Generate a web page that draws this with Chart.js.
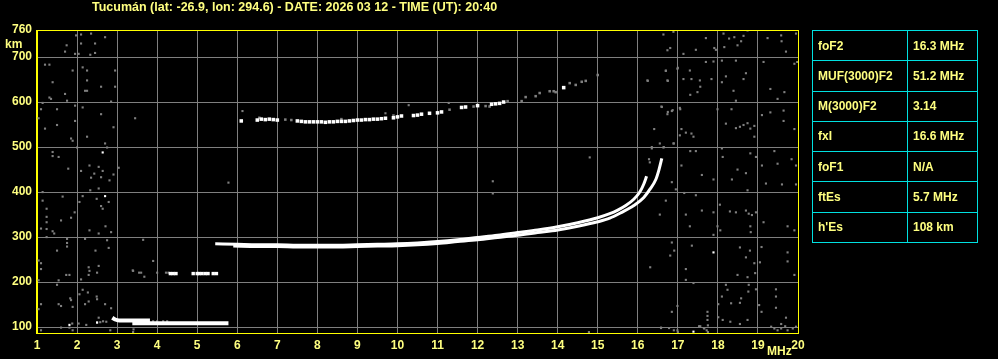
<!DOCTYPE html>
<html>
<head>
<meta charset="utf-8">
<script src="https://cdn.jsdelivr.net/npm/chart.js@4"></script>
<style>
  html, body { margin: 0; padding: 0; background: #000; }
  #wrap { position: relative; width: 998px; height: 359px; background: #000; overflow: hidden; }
  #ionogram { position: absolute; left: 0; top: 0; }
  .lbl { position: absolute; color: #ffff80; font: bold 12px "Liberation Sans", Arial, sans-serif; line-height: 12px; white-space: nowrap; }
  #title { left: 92px; top: 1px; font-size: 12.5px; line-height: 12.5px; }
  #km { left: 5px; top: 38px; }
  #mhz { left: 767px; top: 345px; }
  #params { position: absolute; left: 812px; top: 30px; width: 166px; height: 213px; border-collapse: collapse; }
  #params td { border: 1px solid #00e0e0; color: #ffff80; font: bold 12px "Liberation Sans", Arial, sans-serif; padding: 0 0 0 5px; height: 29px; vertical-align: middle; }
  #params td:first-child { width: 89px; }
</style>
</head>
<body>
<div id="wrap">
  <canvas id="ionogram" width="998" height="359"></canvas>
  <div class="lbl" id="title">Tucumán (lat: -26.9, lon: 294.6) - DATE: 2026 03 12 - TIME (UT): 20:40</div>
  <div class="lbl" id="km">km</div>
  <div class="lbl" id="mhz">MHz</div>
  <table id="params"></table>
</div>
<script>
// scaled parameters shown in the side table
const paramNames = ['foF2', 'MUF(3000)F2', 'M(3000)F2', 'fxI', 'foF1', 'ftEs', "h'Es"];
const paramValues = ['16.3 MHz', '51.2 MHz', '3.14', '16.6 MHz', 'N/A', '5.7 MHz', '108 km'];

const heightTicks = [100, 200, 300, 400, 500, 600, 700, 760];

// F layer, ordinary trace (MHz / km)
const fO = [5.45, 6, 6.5, 7, 7.5, 8, 8.5, 9, 9.5, 10, 10.5, 11, 11.5, 12, 12.5, 13, 13.5, 14, 14.5, 15, 15.3, 15.5, 15.7, 15.9, 16.05, 16.15, 16.22];
const hO = [285, 284, 283, 283, 282, 282, 282, 283, 284, 285, 287, 290, 294, 299, 304, 310, 316, 323, 332, 343, 352, 360, 370, 384, 400, 418, 435];

// F layer, extraordinary trace
const fX = [5.9, 6.5, 7, 7.5, 8, 8.5, 9, 9.5, 10, 10.5, 11, 11.5, 12, 12.5, 13, 13.5, 14, 14.5, 15, 15.3, 15.6, 15.9, 16.15, 16.3, 16.45, 16.53, 16.6];
const hX = [280, 279, 279, 278, 278, 278, 279, 280, 281, 283, 286, 290, 294, 299, 304, 310, 316, 324, 334, 342, 355, 370, 388, 406, 428, 450, 475];

// sporadic E
const fEsTop = [2.88, 2.95, 3.05, 3.82];
const hEsTop = [121, 117, 115, 115];
const fEs = [3.38, 5.78];
const hEs = [108.5, 108.5];

// second hop Es
const fEsHop = [4.33, 4.4, 4.47, 4.9, 5.0, 5.05, 5.12, 5.2, 5.27, 5.4, 5.48];
const hEsHop = [219, 219, 219, 219, 219, 219, 219, 219, 219, 219, 219];

// second hop F (bright and faint echoes)
const fHop = [6.1, 6.5, 6.6, 6.7, 6.8, 6.9, 7.0, 7.5, 7.6, 7.7, 7.8, 7.9, 8.0, 8.1, 8.2, 8.3, 8.4, 8.5, 8.6, 8.7, 8.8, 8.9, 9.0, 9.1, 9.2, 9.3, 9.4, 9.5, 9.6, 9.7, 9.9, 10.0, 10.1, 10.4, 10.5, 10.6, 10.8, 11.0, 11.1, 11.6, 11.7, 12.0, 12.35, 12.45, 12.55, 12.65, 14.15];
const hHop = [558, 560, 562, 561, 562, 561, 560, 558, 557, 556, 556, 556, 556, 556, 555, 556, 556, 557, 557, 557, 558, 559, 560, 560, 561, 561, 562, 562, 563, 564, 565, 567, 569, 570, 571, 573, 575, 576, 578, 588, 589, 592, 595, 596, 597, 600, 632];
const fHopFaint = [6.55, 7.2, 7.35, 8.6, 9.9, 11.3, 11.9, 12.2, 12.3, 12.75, 13.1, 13.2, 13.45, 13.55, 13.8, 13.9, 13.95, 14.3, 14.45, 14.6, 14.7, 15.0];
const hHopFaint = [565, 561, 560, 562, 570, 583, 590, 591, 590, 602, 602, 611, 613, 620, 624, 624, 622, 642, 638, 645, 647, 660];

// interference / noise echoes [MHz, km]
const noiseLow = [[1.975,748],[2.1,750],[2.35,752],[2.7,744],[1.74,726],[2.1,730],[2.45,730],[1.7,712],[1.95,707],[2.04,707],[2.33,705],[2.45,709],[1.2,683],[1.31,683],[1.89,670],[2.14,677],[2.25,670],[2.95,670],[1.39,644],[2.25,648],[2.6,634],[2.95,634],[2.2,625],[2.25,625],[1.7,618],[1.31,610],[1.35,607],[1.75,603],[2.85,601],[1.14,598],[1.1,584],[1.95,592],[2.14,588],[1.5,584],[2.6,573],[1.04,564],[1.95,558],[3.45,564],[1.2,541],[1.5,549],[2.91,544],[2.25,523],[1.85,519],[1.89,514],[2.7,508],[2.75,499],[1.39,489],[1.39,480],[1.54,478],[2.0,499],[2.31,459],[1.78,452],[2.1,447],[2.54,456],[2.43,441],[2.64,447],[2.91,439],[3.04,454],[2.35,432],[2.6,433],[2.81,426],[2.33,404],[2.54,408],[1.14,400],[1.64,390],[2.14,391],[1.14,381],[2.06,378],[2.49,385],[2.79,378],[2.6,369],[2.64,363],[1.24,363],[1.94,355],[1.24,345],[1.85,343],[1.6,337],[1.24,333],[1.24,318],[1.1,319],[1.39,313],[1.43,308],[2.31,315],[2.71,324],[2.54,308],[2.85,311],[1.24,300],[2.2,296],[1.75,296],[1.75,287],[2.75,293],[2.79,276],[1.75,279],[1.5,270],[2.46,270],[1.04,248],[1.1,242],[1.1,229],[2.54,236],[2.29,233],[2.31,225],[2.29,216],[2.5,221],[1.73,216],[1.81,216],[2.1,206],[1.04,204],[1.54,204],[1.5,194],[3.39,226],[2.06,173],[2.14,183],[2.27,177],[2.49,168],[2.5,162],[2.29,157],[1.83,164],[1.85,160],[1.54,151],[1.6,147],[1.1,151],[1.89,145],[2.2,151],[2.7,151],[2.85,142],[1.04,140],[2.54,121],[2.73,112],[1.88,108],[2.04,108],[2.23,105],[1.6,99],[1.81,99],[1.89,93],[1.1,93],[3.41,95],[2.5,111],[2.58,111],[2.65,113],[2.83,93],[3.4,89]];
const noiseMid = [[3.9,113],[4.0,113],[4.15,113],[4.25,113],[3.55,221],[3.6,221],[3.68,212],[3.4,225],[4.0,221],[4.22,221],[4.28,221],[3.9,247],[3.65,294],[5.78,421],[6.13,580],[10.28,593],[9.7,575],[11.28,598],[14.8,477],[12.38,424],[12.38,397],[14.78,89]];
const noiseHigh = [[16.64,750],[16.89,756],[16.74,715],[16.81,720],[17.14,707],[17.45,716],[17.7,742],[17.91,720],[17.95,716],[18.14,752],[18.16,722],[18.28,741],[18.41,744],[18.49,726],[18.58,735],[18.64,747],[18.74,759],[19.24,742],[19.58,748],[19.59,735],[19.7,712],[19.95,752],[17.7,689],[17.89,690],[18.1,692],[18.45,692],[16.7,670],[16.99,674],[17.3,670],[16.24,648],[16.74,648],[17.14,651],[17.34,651],[17.55,648],[17.56,634],[17.84,651],[18.1,644],[18.2,657],[18.7,664],[18.64,651],[17.31,616],[17.49,622],[18.39,625],[18.45,603],[19.14,689],[19.31,629],[19.49,607],[19.66,622],[19.91,685],[19.98,689],[16.59,590],[16.74,573],[16.87,582],[17.06,584],[17.99,584],[18.34,584],[19.1,571],[19.31,577],[19.64,581],[19.64,558],[19.91,540],[16.41,540],[17.09,540],[17.2,532],[17.05,526],[17.34,530],[17.39,523],[18.2,552],[18.45,542],[18.55,545],[18.64,549],[18.74,553],[18.81,541],[18.91,547],[18.91,523],[16.89,508],[16.64,499],[16.35,497],[18.1,497],[17.31,491],[17.45,491],[18.12,478],[18.81,486],[18.95,478],[19.41,491],[19.84,473],[19.1,459],[19.49,463],[19.95,459],[17.09,459],[17.6,438],[17.89,428],[18.35,428],[18.49,450],[18.7,442],[16.85,422],[19.2,419],[19.6,417],[19.95,417],[16.95,406],[17.16,398],[17.45,393],[18.74,404],[16.7,381],[16.55,350],[17.2,350],[17.6,359],[17.89,355],[18.05,372],[18.3,357],[18.45,355],[18.7,359],[18.77,352],[18.85,349],[18.95,355],[19.14,333],[19.74,324],[19.91,315],[17.3,324],[17.99,324],[18.06,315],[17.89,305],[18.81,324],[18.82,311],[16.85,288],[16.91,270],[16.81,259],[17.35,281],[18.55,277],[18.8,270],[18.7,255],[18.91,242],[19.05,244],[18.93,220],[18.49,216],[18.74,211],[19.09,278],[19.74,266],[19.74,246],[19.91,216],[16.31,233],[17.2,229],[17.2,205],[17.39,198],[18.2,194],[18.24,183],[18.1,168],[18.33,153],[18.55,154],[18.58,164],[18.76,179],[18.95,184],[19.03,149],[18.77,194],[19.45,184],[19.45,168],[19.45,143],[19.09,134],[16.99,147],[16.85,134],[17.74,134],[17.74,125],[17.74,116],[18.01,151],[18.01,122],[18.12,116],[18.31,112],[18.55,107],[18.74,116],[19.7,121],[19.58,107],[17.56,102],[17.66,97],[17.72,93],[16.99,93],[16.58,99],[19.33,101],[19.41,97],[19.49,93],[19.58,97],[19.68,102],[19.74,93],[19.87,97],[19.95,101],[16.7,669],[17.0,676],[16.25,647],[16.75,647],[16.6,589],[16.75,578],[16.85,580],[17.05,587],[16.35,500],[16.55,508],[16.65,500],[16.9,508],[16.28,473],[16.3,466],[16.58,98],[16.78,98],[16.9,93],[17.0,89],[17.53,102],[17.65,98],[17.75,104],[17.75,89]];
const noiseBright = [[2.64,488],[2.7,391],[2.5,110],[1.81,105],[17.89,266],[17.39,90]];

const YELLOW = '#ffff80';
const GRID = '#7f7f7f';
const tickFont = { family: 'Liberation Sans', size: 12, weight: 'bold' };

function toXY(xs, ys) {
    return xs.map((x, i) => ({ x: x, y: ys[i] }));
}
function pairsXY(pairs) {
    return pairs.map(p => ({ x: p[0], y: p[1] }));
}

function traceSet(xs, ys, width) {
    return {
        data: toXY(xs, ys),
        showLine: true,
        borderColor: '#ffffff',
        borderWidth: width,
        pointRadius: 0,
        cubicInterpolationMode: 'monotone'
    };
}
function dotSet(points, color, radius) {
    return {
        data: points,
        showLine: false,
        pointStyle: 'rect',
        pointRadius: radius,
        backgroundColor: color,
        borderWidth: 0
    };
}

// yellow frame round the plot
const framePlugin = {
    id: 'frame',
    afterDatasetsDraw(chart) {
        const a = chart.chartArea;
        const c = chart.ctx;
        c.save();
        c.strokeStyle = '#ffff00';
        c.lineWidth = 1;
        c.strokeRect(Math.round(a.left) - 0.5, Math.round(a.top) + 0.5, Math.round(a.right - a.left) + 1, Math.round(a.bottom - a.top));
        c.restore();
    }
};

// fill the side table
const table = document.getElementById('params');
paramNames.forEach((name, i) => {
    const row = table.insertRow(-1);
    row.insertCell(0).innerText = name;
    row.insertCell(1).innerText = paramValues[i];
});

new Chart(document.getElementById('ionogram'), {
    type: 'scatter',
    data: {
        datasets: [
            traceSet(fO, hO, 3),
            traceSet(fX, hX, 3),
            traceSet(fEsTop, hEsTop, 4),
            traceSet(fEs, hEs, 4),
            dotSet(toXY(fEsHop, hEsHop), '#ffffff', 2.4),
            dotSet(toXY(fHop, hHop), '#ffffff', 2.5),
            dotSet(toXY(fHopFaint, hHopFaint), GRID, 1.8),
            dotSet(pairsXY(noiseBright), '#ffffff', 1.5),
            dotSet(pairsXY(noiseLow), GRID, 1.5),
            dotSet(pairsXY(noiseMid), GRID, 1.5),
            dotSet(pairsXY(noiseHigh), GRID, 1.5)
        ]
    },
    options: {
        responsive: false,
        animation: false,
        events: [],
        layout: { padding: { top: 30, right: 200, left: 0, bottom: 0 } },
        plugins: {
            legend: { display: false },
            tooltip: { enabled: false }
        },
        scales: {
            x: {
                type: 'linear',
                min: 1,
                max: 20,
                ticks: { stepSize: 1, color: YELLOW, font: tickFont, padding: 5, maxRotation: 0 },
                grid: { color: GRID, drawTicks: false },
                border: { color: '#ffff00' },
                afterFit: (scale) => { scale.height = 26; }
            },
            y: {
                type: 'linear',
                min: 87,
                max: 760,
                afterBuildTicks: (scale) => { scale.ticks = heightTicks.map(v => ({ value: v })); },
                ticks: { color: YELLOW, font: tickFont, padding: 5 },
                grid: { color: GRID, drawTicks: false },
                border: { color: '#ffff00' },
                afterFit: (scale) => { scale.width = 37; }
            }
        }
    },
    plugins: [framePlugin]
});
</script>
</body>
</html>
